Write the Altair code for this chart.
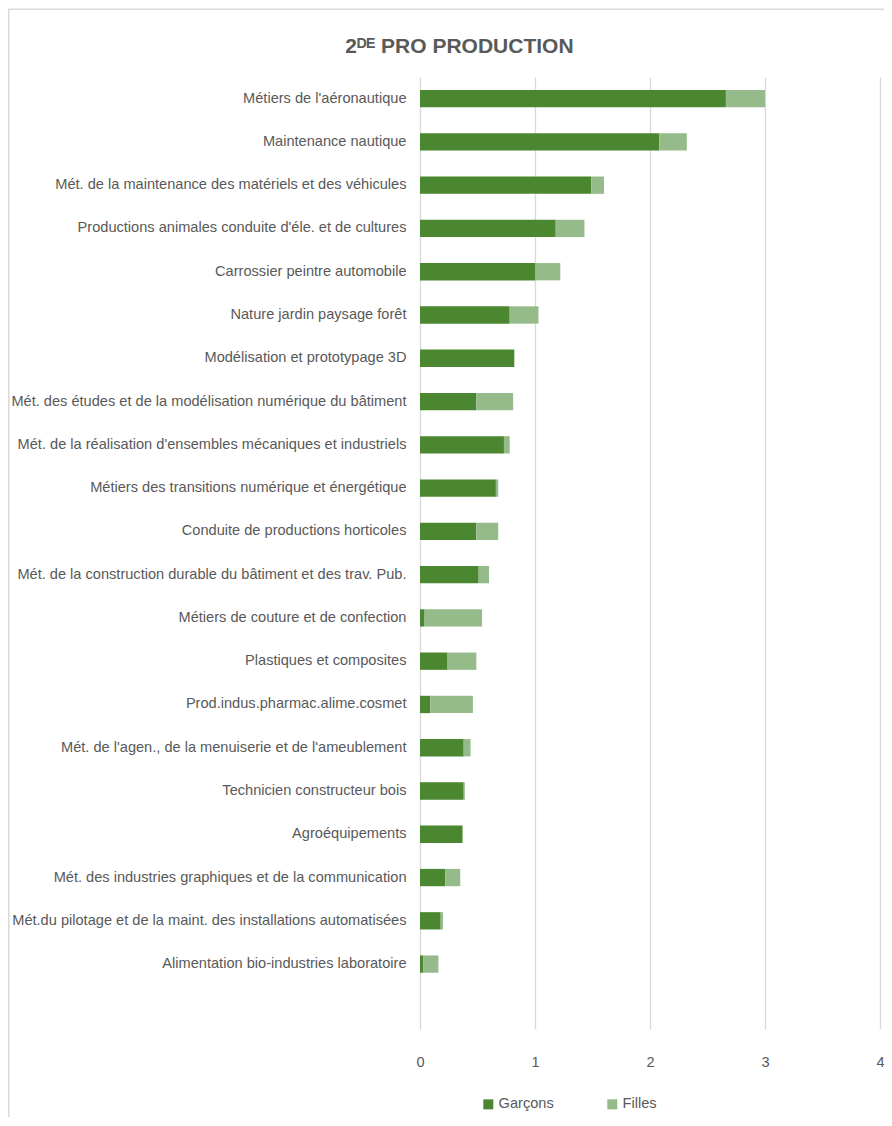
import altair as alt
import pandas as pd

categories = [
    "Métiers de l'aéronautique",
    "Maintenance nautique",
    "Mét. de la maintenance des matériels et des véhicules",
    "Productions animales conduite d'éle. et de cultures",
    "Carrossier peintre automobile",
    "Nature jardin paysage forêt",
    "Modélisation et prototypage 3D",
    "Mét. des études et de la modélisation numérique du bâtiment",
    "Mét. de la réalisation d'ensembles mécaniques et industriels",
    "Métiers des transitions numérique et énergétique",
    "Conduite de productions horticoles",
    "Mét. de la construction durable du bâtiment et des trav. Pub.",
    "Métiers de couture et de confection",
    "Plastiques et composites",
    "Prod.indus.pharmac.alime.cosmet",
    "Mét. de l'agen., de la menuiserie et de l'ameublement",
    "Technicien constructeur bois",
    "Agroéquipements",
    "Mét. des industries graphiques et de la communication",
    "Mét.du pilotage et de la maint. des installations automatisées",
    "Alimentation bio-industries laboratoire",
]
garcons = [2.66, 2.08, 1.49, 1.18, 1.00, 0.78, 0.82, 0.49, 0.73, 0.66, 0.49,
           0.51, 0.04, 0.24, 0.09, 0.38, 0.38, 0.37, 0.22, 0.18, 0.03]
filles = [0.34, 0.24, 0.11, 0.25, 0.22, 0.25, 0.00, 0.32, 0.05, 0.02, 0.19,
          0.09, 0.50, 0.25, 0.37, 0.06, 0.01, 0.00, 0.13, 0.02, 0.13]
series = ["Garçons", "Filles"]
colors = ["#4b8731", "#95bb8a"]
x_ticks = [0, 1, 2, 3, 4]
title_text = "2ᴰᴱ PRO PRODUCTION"

rows = []
for c, g, f in zip(categories, garcons, filles):
    rows.append({"cat": c, "serie": series[0], "val": g, "ord": 0})
    rows.append({"cat": c, "serie": series[1], "val": f, "ord": 1})
df = pd.DataFrame(rows)

FONT = "Liberation Sans"
GRAY = "#595959"
FS = 14.6

bars = alt.Chart(df).mark_bar().encode(
    y=alt.Y(
        "cat:N",
        scale=alt.Scale(domain=categories + [""], paddingInner=0.6, paddingOuter=0.3),
        axis=alt.Axis(title=None, domain=False, ticks=False, labelPadding=14,
                      labelFontSize=FS, labelColor=GRAY, labelLimit=0, grid=False,
                      labelFont=FONT),
    ),
    x=alt.X(
        "val:Q", stack="zero",
        scale=alt.Scale(domain=[0, 4], nice=False),
        axis=alt.Axis(values=x_ticks, title=None, domain=False, ticks=False, grid=True,
                      gridColor="#d9d9d9", gridWidth=1.3, labelPadding=25,
                      labelFontSize=FS, labelColor=GRAY, format="d", labelFont=FONT,
                      labelFlush=False),
    ),
    color=alt.Color(
        "serie:N",
        scale=alt.Scale(domain=series, range=colors),
        legend=alt.Legend(title=None, orient="none", legendX=61, legendY=1020,
                          direction="horizontal", symbolType="square", symbolSize=100,
                          labelFontSize=FS, labelColor=GRAY, columnPadding=51,
                          labelOffset=3, symbolStrokeWidth=0, labelFont=FONT),
    ),
    order=alt.Order("ord:Q"),
)

# chart-area frame (Excel style), left and top edges visible
frame = alt.Chart(alt.Data(values=[{}])).mark_rect(
    fill="transparent", stroke="#d9d9d9", strokeWidth=1.5
).encode(
    x=alt.value(-411.2), x2=alt.value(490),
    y=alt.value(-67.8), y2=alt.value(1080),
)

chart = alt.layer(frame, bars).properties(
    width=460,
    height=952,
    title=alt.TitleParams(title_text, fontSize=21, fontWeight="bold", color=GRAY,
                          anchor="middle", frame="bounds", offset=0, dy=48.5,
                          font=FONT),
    padding={"left": 412, "top": 69, "right": 4, "bottom": 88},
    autosize=alt.AutoSizeParams(type="none"),
).configure_view(stroke=None)

chart.save("out.html", embed_options={"renderer": "svg", "actions": False})
